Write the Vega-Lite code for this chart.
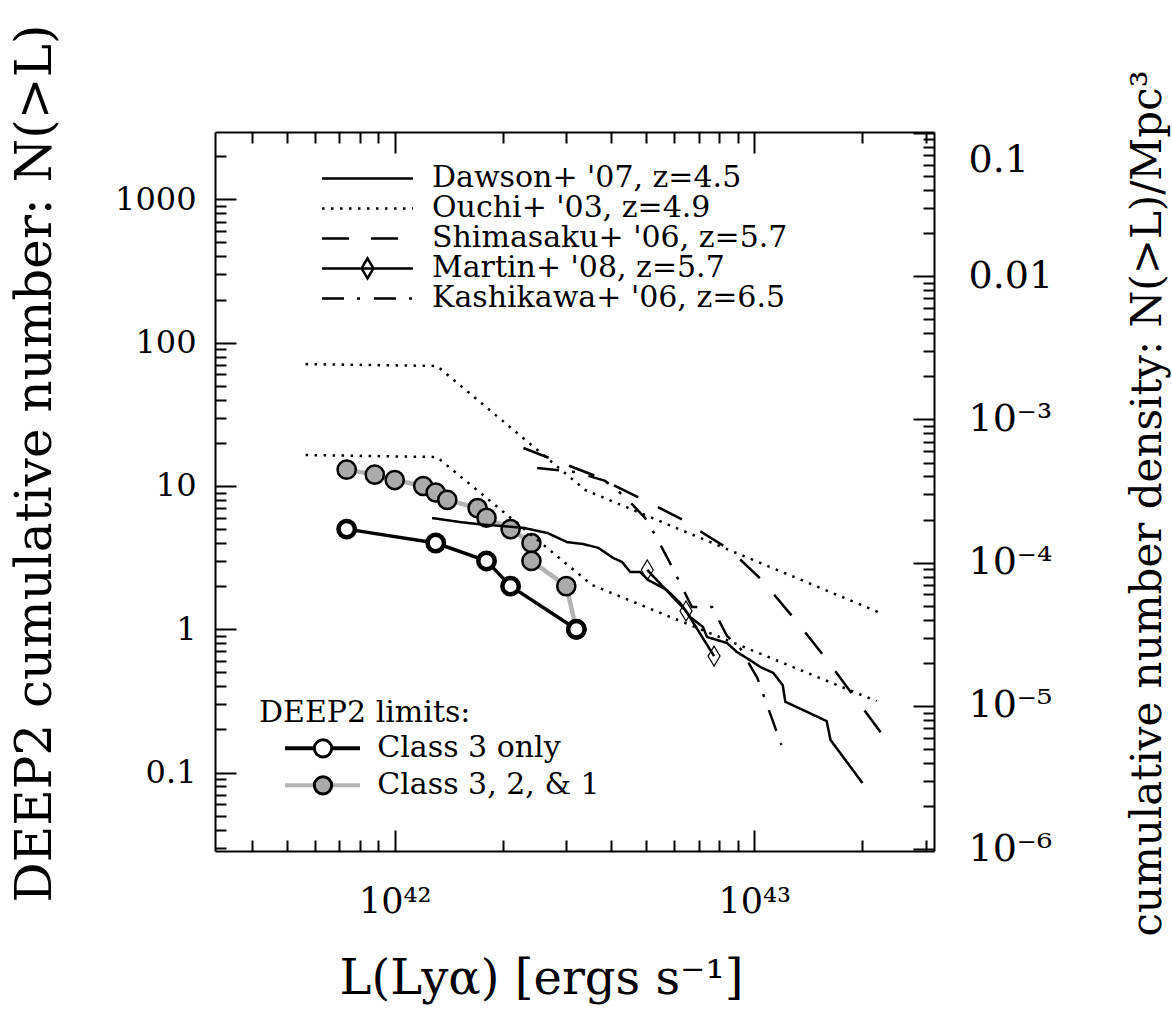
{
  "$schema": "https://vega.github.io/schema/vega-lite/v6.json",
  "width": 719,
  "height": 719,
  "autosize": {"type": "none"},
  "padding": {"left": 215, "top": 132, "right": 238, "bottom": 164},
  "background": "white",
  "config": {"view": {"stroke": null}, "font": "DejaVu Serif"},
  "datasets": {
    "deep2": [
      {"sample": "Class 3 only", "L": 7.35e41, "N": 5},
      {"sample": "Class 3 only", "L": 1.3e42, "N": 4},
      {"sample": "Class 3 only", "L": 1.8e42, "N": 3},
      {"sample": "Class 3 only", "L": 2.1e42, "N": 2},
      {"sample": "Class 3 only", "L": 3.2e42, "N": 1},
      {"sample": "Class 3, 2, & 1", "L": 7.35e41, "N": 13},
      {"sample": "Class 3, 2, & 1", "L": 8.8e41, "N": 12},
      {"sample": "Class 3, 2, & 1", "L": 1.0e42, "N": 11},
      {"sample": "Class 3, 2, & 1", "L": 1.2e42, "N": 10},
      {"sample": "Class 3, 2, & 1", "L": 1.3e42, "N": 9},
      {"sample": "Class 3, 2, & 1", "L": 1.4e42, "N": 8},
      {"sample": "Class 3, 2, & 1", "L": 1.7e42, "N": 7},
      {"sample": "Class 3, 2, & 1", "L": 1.8e42, "N": 6},
      {"sample": "Class 3, 2, & 1", "L": 2.1e42, "N": 5},
      {"sample": "Class 3, 2, & 1", "L": 2.4e42, "N": 4},
      {"sample": "Class 3, 2, & 1", "L": 2.4e42, "N": 3},
      {"sample": "Class 3, 2, & 1", "L": 3.0e42, "N": 2},
      {"sample": "Class 3, 2, & 1", "L": 3.2e42, "N": 1}
    ],
    "lit": [
      {"s": "Dawson+ '07, z=4.5", "c": "D", "L": 1.27e42, "n": 2.05e-4},
      {"s": "Dawson+ '07, z=4.5", "c": "D", "L": 1.52e42, "n": 1.92e-4},
      {"s": "Dawson+ '07, z=4.5", "c": "D", "L": 1.70e42, "n": 1.86e-4},
      {"s": "Dawson+ '07, z=4.5", "c": "D", "L": 2.28e42, "n": 1.75e-4},
      {"s": "Dawson+ '07, z=4.5", "c": "D", "L": 2.66e42, "n": 1.61e-4},
      {"s": "Dawson+ '07, z=4.5", "c": "D", "L": 3.02e42, "n": 1.39e-4},
      {"s": "Dawson+ '07, z=4.5", "c": "D", "L": 3.34e42, "n": 1.35e-4},
      {"s": "Dawson+ '07, z=4.5", "c": "D", "L": 3.68e42, "n": 1.27e-4},
      {"s": "Dawson+ '07, z=4.5", "c": "D", "L": 4.05e42, "n": 1.08e-4},
      {"s": "Dawson+ '07, z=4.5", "c": "D", "L": 4.29e42, "n": 1.01e-4},
      {"s": "Dawson+ '07, z=4.5", "c": "D", "L": 4.52e42, "n": 8.61e-5},
      {"s": "Dawson+ '07, z=4.5", "c": "D", "L": 4.81e42, "n": 8.61e-5},
      {"s": "Dawson+ '07, z=4.5", "c": "D", "L": 5.07e42, "n": 7.57e-5},
      {"s": "Dawson+ '07, z=4.5", "c": "D", "L": 5.72e42, "n": 6.44e-5},
      {"s": "Dawson+ '07, z=4.5", "c": "D", "L": 6.22e42, "n": 5.23e-5},
      {"s": "Dawson+ '07, z=4.5", "c": "D", "L": 6.63e42, "n": 4.18e-5},
      {"s": "Dawson+ '07, z=4.5", "c": "D", "L": 7.20e42, "n": 3.56e-5},
      {"s": "Dawson+ '07, z=4.5", "c": "D", "L": 7.39e42, "n": 3.03e-5},
      {"s": "Dawson+ '07, z=4.5", "c": "D", "L": 8.40e42, "n": 2.75e-5},
      {"s": "Dawson+ '07, z=4.5", "c": "D", "L": 8.95e42, "n": 2.38e-5},
      {"s": "Dawson+ '07, z=4.5", "c": "D", "L": 9.73e42, "n": 2.09e-5},
      {"s": "Dawson+ '07, z=4.5", "c": "D", "L": 1.04e43, "n": 1.87e-5},
      {"s": "Dawson+ '07, z=4.5", "c": "D", "L": 1.13e43, "n": 1.70e-5},
      {"s": "Dawson+ '07, z=4.5", "c": "D", "L": 1.20e43, "n": 1.40e-5},
      {"s": "Dawson+ '07, z=4.5", "c": "D", "L": 1.22e43, "n": 1.07e-5},
      {"s": "Dawson+ '07, z=4.5", "c": "D", "L": 1.59e43, "n": 7.85e-6},
      {"s": "Dawson+ '07, z=4.5", "c": "D", "L": 1.63e43, "n": 5.79e-6},
      {"s": "Dawson+ '07, z=4.5", "c": "D", "L": 2.00e43, "n": 2.90e-6},
      {"s": "Ouchi+ '03, z=4.9", "c": "Oa", "L": 5.65e41, "n": 2.43e-3},
      {"s": "Ouchi+ '03, z=4.9", "c": "Oa", "L": 1.31e42, "n": 2.36e-3},
      {"s": "Ouchi+ '03, z=4.9", "c": "Oa", "L": 3.39e42, "n": 3.21e-4},
      {"s": "Ouchi+ '03, z=4.9", "c": "Oa", "L": 2.21e43, "n": 4.53e-5},
      {"s": "Ouchi+ '03, z=4.9", "c": "Ob", "L": 5.65e41, "n": 5.64e-4},
      {"s": "Ouchi+ '03, z=4.9", "c": "Ob", "L": 1.31e42, "n": 5.46e-4},
      {"s": "Ouchi+ '03, z=4.9", "c": "Ob", "L": 3.54e42, "n": 6.98e-5},
      {"s": "Ouchi+ '03, z=4.9", "c": "Ob", "L": 2.19e43, "n": 1.08e-5},
      {"s": "Shimasaku+ '06, z=5.7", "c": "S", "L": 2.28e42, "n": 6.31e-4},
      {"s": "Shimasaku+ '06, z=5.7", "c": "S", "L": 3.56e42, "n": 4.09e-4},
      {"s": "Shimasaku+ '06, z=5.7", "c": "S", "L": 4.75e42, "n": 2.87e-4},
      {"s": "Shimasaku+ '06, z=5.7", "c": "S", "L": 6.34e42, "n": 1.99e-4},
      {"s": "Shimasaku+ '06, z=5.7", "c": "S", "L": 7.20e42, "n": 1.61e-4},
      {"s": "Shimasaku+ '06, z=5.7", "c": "S", "L": 8.56e42, "n": 1.23e-4},
      {"s": "Shimasaku+ '06, z=5.7", "c": "S", "L": 1.05e43, "n": 7.57e-5},
      {"s": "Shimasaku+ '06, z=5.7", "c": "S", "L": 1.28e43, "n": 4.18e-5},
      {"s": "Shimasaku+ '06, z=5.7", "c": "S", "L": 1.57e43, "n": 2.20e-5},
      {"s": "Shimasaku+ '06, z=5.7", "c": "S", "L": 2.31e43, "n": 5.97e-6},
      {"s": "Martin+ '08, z=5.7", "c": "M", "L": 5.04e42, "n": 8.89e-5},
      {"s": "Martin+ '08, z=5.7", "c": "M", "L": 6.46e42, "n": 4.60e-5},
      {"s": "Martin+ '08, z=5.7", "c": "M", "L": 7.73e42, "n": 2.23e-5},
      {"s": "Kashikawa+ '06, z=6.5", "c": "K", "L": 2.49e42, "n": 4.58e-4},
      {"s": "Kashikawa+ '06, z=6.5", "c": "K", "L": 3.18e42, "n": 4.29e-4},
      {"s": "Kashikawa+ '06, z=6.5", "c": "K", "L": 3.85e42, "n": 3.72e-4},
      {"s": "Kashikawa+ '06, z=6.5", "c": "K", "L": 4.38e42, "n": 2.87e-4},
      {"s": "Kashikawa+ '06, z=6.5", "c": "K", "L": 4.97e42, "n": 2.05e-4},
      {"s": "Kashikawa+ '06, z=6.5", "c": "K", "L": 5.30e42, "n": 1.56e-4},
      {"s": "Kashikawa+ '06, z=6.5", "c": "K", "L": 5.83e42, "n": 9.95e-5},
      {"s": "Kashikawa+ '06, z=6.5", "c": "K", "L": 6.71e42, "n": 4.91e-5},
      {"s": "Kashikawa+ '06, z=6.5", "c": "K", "L": 7.63e42, "n": 4.91e-5},
      {"s": "Kashikawa+ '06, z=6.5", "c": "K", "L": 8.40e42, "n": 3.08e-5},
      {"s": "Kashikawa+ '06, z=6.5", "c": "K", "L": 9.13e42, "n": 2.54e-5},
      {"s": "Kashikawa+ '06, z=6.5", "c": "K", "L": 1.02e43, "n": 1.57e-5},
      {"s": "Kashikawa+ '06, z=6.5", "c": "K", "L": 1.19e43, "n": 5.34e-6}
    ]
  },
  "resolve": {"scale": {"y": "independent"}, "axis": {"x": "independent", "y": "independent"}},
  "layer": [
    {
      "data": {"name": "deep2"},
      "encoding": {
        "x": {
          "field": "L", "type": "quantitative",
          "scale": {"type": "log", "domain": [3.1623e41, 3.1623e43]},
          "axis": {
            "orient": "bottom",
            "values": [4e41, 5e41, 6e41, 7e41, 8e41, 9e41, 1e42, 2e42, 3e42, 4e42, 5e42, 6e42, 7e42, 8e42, 9e42, 1e43, 2e43, 3e43],
            "labelExpr": "datum.value == 1e42 ? '10⁴²' : datum.value == 1e43 ? '10⁴³' : ''",
            "tickSize": {"condition": {"test": "datum.value == 1e42 || datum.value == 1e43", "value": -21}, "value": -11},
            "tickWidth": 2, "tickColor": "black",
            "domainColor": "black", "domainWidth": 2,
            "grid": false,
            "labelFont": "DejaVu Serif", "labelFontSize": 35, "labelColor": "black",
            "labelPadding": 54, "labelFlush": false, "labelOverlap": false, "labelBound": false,
            "title": "L(Lyα) [ergs s⁻¹]",
            "titleFont": "DejaVu Serif", "titleFontSize": 48, "titleFontWeight": "normal", "titleColor": "black",
            "titleX": 326, "titleY": 142, "titleAlign": "center", "titleBaseline": "alphabetic", "titleAnchor": null
          }
        },
        "y": {
          "field": "N", "type": "quantitative",
          "scale": {"type": "log", "domain": [0.02838, 2951]},
          "axis": {
            "orient": "left",
            "values": [0.03, 0.04, 0.05, 0.06, 0.07, 0.08, 0.09, 0.1, 0.2, 0.3, 0.4, 0.5, 0.6, 0.7, 0.8, 0.9, 1, 2, 3, 4, 5, 6, 7, 8, 9, 10, 20, 30, 40, 50, 60, 70, 80, 90, 100, 200, 300, 400, 500, 600, 700, 800, 900, 1000, 2000],
            "labelExpr": "datum.value == 0.1 ? '0.1' : datum.value == 1 ? '1' : datum.value == 10 ? '10' : datum.value == 100 ? '100' : datum.value == 1000 ? '1000' : ''",
            "tickSize": {"condition": {"test": "datum.value == 0.1 || datum.value == 1 || datum.value == 10 || datum.value == 100 || datum.value == 1000", "value": -21}, "value": -11},
            "tickWidth": 2, "tickColor": "black",
            "domainColor": "black", "domainWidth": 2,
            "grid": false,
            "labelFont": "DejaVu Serif", "labelFontSize": 32, "labelColor": "black",
            "labelPadding": 40, "labelFlush": false, "labelOverlap": false, "labelBound": false,
            "title": "DEEP2 cumulative number: N(>L)",
            "titleFont": "DejaVu Serif", "titleFontSize": 50, "titleFontWeight": "normal", "titleColor": "black",
            "titleAngle": 270, "titleX": -165, "titleY": 331, "titleAlign": "center", "titleBaseline": "alphabetic", "titleAnchor": null
          }
        }
      },
      "layer": [
        {
          "transform": [{"filter": "datum.sample == 'Class 3, 2, & 1'"}],
          "mark": {"type": "line", "strokeWidth": 4.5, "strokeJoin": "round", "strokeCap": "round"},
          "encoding": {
            "order": {"field": "N", "type": "quantitative", "sort": "descending"},
            "stroke": {
              "field": "sample", "type": "nominal",
              "scale": {"domain": ["Class 3 only", "Class 3, 2, & 1"], "range": ["black", "#b3b3b3"]},
              "legend": {
                "orient": "none", "legendX": 44, "legendY": 566, "padding": 0,
                "title": "DEEP2 limits:", "titleFont": "DejaVu Serif", "titleFontSize": 30, "titleFontWeight": "normal", "titleColor": "black", "titlePadding": 2, "titleLimit": 0,
                "symbolType": "stroke", "symbolSize": 5625, "symbolStrokeWidth": 4, "symbolOpacity": 1,
                "clipHeight": 36.7, "rowPadding": 0, "symbolOffset": 24, "labelOffset": 15.3,
                "labelFont": "DejaVu Serif", "labelFontSize": 30, "labelColor": "black", "labelLimit": 0
              }
            }
          }
        },
        {
          "transform": [{"filter": "datum.sample == 'Class 3, 2, & 1'"}],
          "mark": {"type": "point", "shape": "circle", "filled": true, "stroke": "black", "strokeWidth": 2.5, "size": 330, "opacity": 1},
          "encoding": {
            "fill": {
              "field": "sample", "type": "nominal",
              "scale": {"range": ["white", "#aaaaaa"]},
              "legend": {
                "orient": "none", "legendX": 44, "legendY": 566, "padding": 0,
                "title": " ", "titleFont": "DejaVu Serif", "titleFontSize": 30, "titleFontWeight": "normal", "titleColor": "black", "titlePadding": 2, "titleLimit": 0,
                "symbolType": "circle", "symbolSize": 300, "symbolStrokeColor": "black", "symbolStrokeWidth": 3, "symbolOpacity": 1,
                "clipHeight": 36.7, "rowPadding": 0, "symbolOffset": 49, "labelOffset": 15.3,
                "labelExpr": "''",
                "labelFont": "DejaVu Serif", "labelFontSize": 30, "labelColor": "black", "labelLimit": 0
              }
            }
          }
        },
        {
          "transform": [{"filter": "datum.sample == 'Class 3 only'"}],
          "mark": {"type": "line", "strokeWidth": 3.5, "strokeJoin": "round", "strokeCap": "round"},
          "encoding": {
            "order": {"field": "N", "type": "quantitative", "sort": "descending"},
            "stroke": {"field": "sample", "type": "nominal"}
          }
        },
        {
          "transform": [{"filter": "datum.sample == 'Class 3 only'"}],
          "mark": {"type": "point", "shape": "circle", "filled": true, "stroke": "black", "strokeWidth": 4.5, "size": 270, "opacity": 1},
          "encoding": {
            "fill": {"field": "sample", "type": "nominal"}
          }
        }
      ]
    },
    {
      "data": {"name": "lit"},
      "encoding": {
        "x": {
          "field": "L", "type": "quantitative",
          "scale": {"type": "log", "domain": [3.1623e41, 3.1623e43]},
          "axis": {
            "orient": "top",
            "values": [4e41, 5e41, 6e41, 7e41, 8e41, 9e41, 1e42, 2e42, 3e42, 4e42, 5e42, 6e42, 7e42, 8e42, 9e42, 1e43, 2e43, 3e43],
            "labels": false,
            "tickSize": {"condition": {"test": "datum.value == 1e42 || datum.value == 1e43", "value": -21}, "value": -11},
            "tickWidth": 2, "tickColor": "black",
            "domainColor": "black", "domainWidth": 2,
            "grid": false, "title": null
          }
        },
        "y": {
          "field": "n", "type": "quantitative",
          "scale": {"type": "log", "domain": [9.73e-7, 0.1012]},
          "axis": {
            "orient": "right",
            "values": [1e-6, 2e-6, 3e-6, 4e-6, 5e-6, 6e-6, 7e-6, 8e-6, 9e-6, 1e-5, 2e-5, 3e-5, 4e-5, 5e-5, 6e-5, 7e-5, 8e-5, 9e-5, 1e-4, 2e-4, 3e-4, 4e-4, 5e-4, 6e-4, 7e-4, 8e-4, 9e-4, 0.001, 0.002, 0.003, 0.004, 0.005, 0.006, 0.007, 0.008, 0.009, 0.01, 0.02, 0.03, 0.04, 0.05, 0.06, 0.07, 0.08, 0.09, 0.1],
            "labelExpr": "datum.value == 0.1 ? '0.1' : datum.value == 0.01 ? '0.01' : datum.value == 0.001 ? '10⁻³' : datum.value == 1e-4 ? '10⁻⁴' : datum.value == 1e-5 ? '10⁻⁵' : datum.value == 1e-6 ? '10⁻⁶' : ''",
            "tickSize": {"condition": {"test": "datum.value == 0.1 || datum.value == 0.01 || datum.value == 0.001 || datum.value == 1e-4 || datum.value == 1e-5 || datum.value == 1e-6", "value": -21}, "value": -11},
            "labelOffset": {"condition": {"test": "datum.value == 0.1", "value": 28}, "value": 0},
            "tickWidth": 2, "tickColor": "black",
            "domainColor": "black", "domainWidth": 2,
            "grid": false,
            "labelFont": "DejaVu Serif", "labelFontSize": 38, "labelColor": "black",
            "labelPadding": 55, "labelFlush": false, "labelOverlap": false, "labelBound": false,
            "title": "cumulative number density: N(>L)/Mpc³",
            "titleFont": "DejaVu Serif", "titleFontSize": 42, "titleFontWeight": "normal", "titleColor": "black",
            "titleAngle": 270, "titleX": 226, "titleY": 371, "titleAlign": "center", "titleBaseline": "alphabetic", "titleAnchor": null
          }
        }
      },
      "layer": [
        {
          "mark": {"type": "line", "color": "black", "strokeJoin": "miter"},
          "encoding": {
            "detail": {"field": "c", "type": "nominal"},
            "strokeWidth": {
              "field": "s", "type": "ordinal",
              "scale": {"domain": ["Dawson+ '07, z=4.5", "Ouchi+ '03, z=4.9", "Shimasaku+ '06, z=5.7", "Martin+ '08, z=5.7", "Kashikawa+ '06, z=6.5"], "range": [2.5, 2.5, 3, 1.6, 3]},
              "legend": null
            },
            "strokeDash": {
              "field": "s", "type": "nominal",
              "scale": {"domain": ["Dawson+ '07, z=4.5", "Ouchi+ '03, z=4.9", "Shimasaku+ '06, z=5.7", "Martin+ '08, z=5.7", "Kashikawa+ '06, z=6.5"], "range": [[1, 0], [2.5, 6.5], [27, 22], [1, 0], [22, 13, 3, 14]]},
              "legend": {
                "orient": "none", "legendX": 105.5, "legendY": 32, "padding": 0,
                "title": null,
                "symbolType": "stroke", "symbolSize": 8281, "symbolStrokeWidth": 3, "symbolStrokeColor": "black", "symbolFillColor": "transparent", "symbolOpacity": 1,
                "clipHeight": 28.75, "rowPadding": -3, "symbolOffset": 0, "labelOffset": 17.5,
                "labelFont": "DejaVu Serif", "labelFontSize": 30, "labelColor": "black", "labelLimit": 0,
                "encode": {
                  "symbols": {
                    "update": {
                      "shape": {"signal": "indexof(datum.value, 'Martin') == 0 ? 'M-1,0L1,0M0,-0.22L0.13,0L0,0.22L-0.13,0Z' : 'stroke'"}
                    }
                  }
                }
              }
            }
          }
        },
        {
          "transform": [{"filter": "indexof(datum.s, 'Martin') == 0"}],
          "mark": {"type": "point", "shape": "M0,-1L0.6,0L0,1L-0.6,0Z", "size": 400, "filled": false, "stroke": "black", "strokeWidth": 1.2, "opacity": 1}
        }
      ]
    }
  ]
}
